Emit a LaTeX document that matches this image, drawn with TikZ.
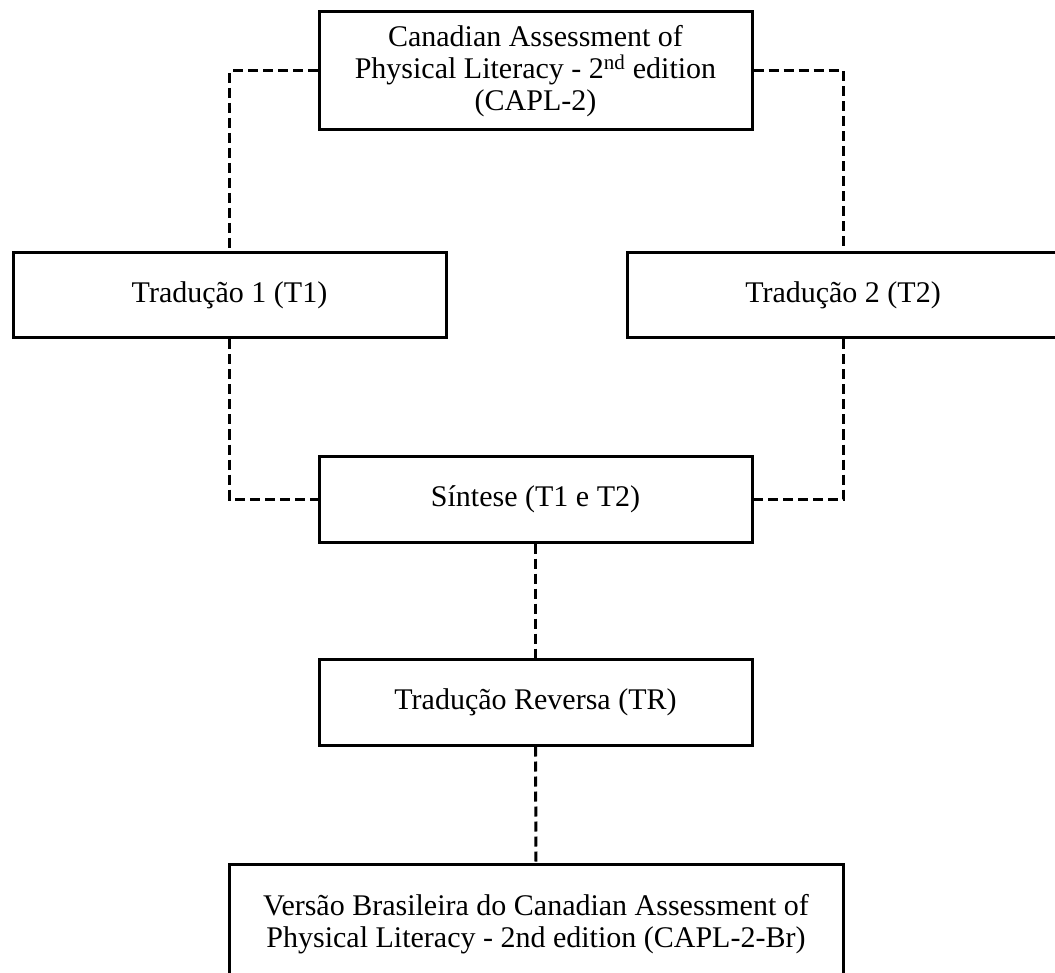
\documentclass[tikz,border=0pt]{standalone}
\usepackage{fontspec}
\setmainfont{Liberation Serif}
\begin{document}
\begin{tikzpicture}[x=1pt,y=-1pt,
  box/.style={draw, line width=3pt, inner sep=0pt, align=center, font=\fontsize{30}{32}\selectfont},
  link/.style={line width=3pt, dash pattern=on 10pt off 5pt}]
\useasboundingbox (0,0) rectangle (1055,973);
\clip (0,0) rectangle (1055,973);
\node[box, minimum width=433pt, minimum height=118pt] (top) at (535.5,71)
  {Canadian Assessment of\\Physical Literacy - 2\textsuperscript{nd} edition\\(CAPL-2)};
\node[box, minimum width=433pt, minimum height=85pt] (t1) at (229.5,295.5) {Tradução 1 (T1)};
\node[box, minimum width=432pt, minimum height=85pt] (t2) at (843,295.5) {Tradução 2 (T2)};
\node[box, minimum width=433pt, minimum height=86pt] (syn) at (535.5,499) {Síntese (T1 e T2)};
\node[box, minimum width=433pt, minimum height=86pt] (tr) at (535.5,702) {Tradução Reversa (TR)};
\node[box, minimum width=614pt, minimum height=121pt] (br) at (536,924.5)
  {Versão Brasileira do Canadian Assessment of\\Physical Literacy - 2nd edition (CAPL-2-Br)};
\draw[link] (top.west) -| (t1.north);
\draw[link] (top.east) -| (t2.north);
\draw[link] (t1.south) |- (syn.west);
\draw[link] (t2.south) |- (syn.east);
\draw[link] (syn.south) -- (tr.north);
\draw[link] (tr.south) -- (br.north);
\end{tikzpicture}
\end{document}
